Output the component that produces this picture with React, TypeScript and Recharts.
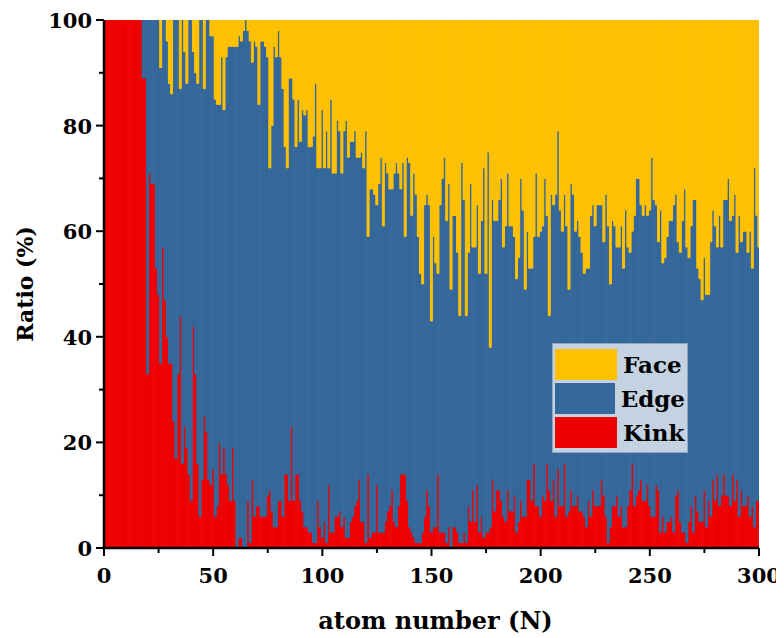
import React from "react";
import { BarChart, Bar, XAxis, YAxis, Legend } from "recharts";

// ratio (%) of surface sites per atom number N = 1..300
const kink = [
  100, 100, 100, 100, 100, 100, 100, 100, 100, 100,
  100, 100, 100, 100, 100, 100, 100, 89, 89, 33,
  71, 69, 69, 53, 48, 35, 57, 47, 40, 35,
  35, 24, 17, 33, 44, 16, 23, 19, 14, 9,
  42, 33, 16, 6, 13, 25, 22, 13, 12, 15,
  6, 8, 20, 14, 19, 14, 12, 9, 19, 9,
  0, 2, 2, 0, 0, 9, 1, 13, 6, 8,
  8, 6, 6, 6, 10, 11, 7, 4, 4, 9,
  9, 6, 14, 14, 9, 23, 9, 14, 14, 9,
  7, 4, 4, 3, 3, 1, 1, 9, 4, 2,
  5, 1, 12, 3, 3, 6, 6, 7, 4, 6,
  2, 2, 5, 6, 8, 9, 13, 5, 5, 1,
  14, 2, 3, 3, 12, 3, 3, 3, 5, 7,
  8, 11, 5, 4, 8, 14, 14, 14, 9, 4,
  3, 2, 1, 1, 1, 3, 6, 11, 8, 3,
  4, 4, 14, 3, 3, 3, 1, 4, 0, 4,
  4, 3, 1, 1, 3, 1, 8, 5, 11, 5,
  12, 3, 6, 2, 3, 3, 4, 13, 7, 11,
  11, 9, 6, 5, 11, 7, 7, 10, 3, 5,
  9, 6, 6, 13, 13, 9, 16, 8, 8, 6,
  10, 9, 16, 11, 9, 13, 6, 15, 8, 8,
  16, 6, 7, 11, 8, 8, 10, 7, 7, 6,
  4, 9, 6, 11, 8, 8, 8, 13, 10, 6,
  1, 4, 8, 8, 10, 6, 8, 4, 4, 8,
  11, 16, 8, 10, 11, 13, 9, 9, 12, 8,
  6, 6, 12, 11, 3, 6, 3, 5, 5, 6,
  3, 10, 11, 5, 3, 3, 1, 5, 8, 3,
  10, 7, 5, 5, 11, 4, 9, 6, 13, 9,
  14, 8, 10, 14, 10, 10, 8, 14, 9, 13,
  6, 11, 8, 8, 10, 6, 8, 4, 9, 9,
];

const edge = [
  0, 0, 0, 0, 0, 0, 0, 0, 0, 0,
  0, 0, 0, 0, 0, 0, 0, 11, 11, 67,
  29, 31, 31, 47, 52, 56, 43, 53, 56, 53,
  51, 76, 83, 67, 43, 84, 71, 69, 86, 91,
  52, 57, 72, 94, 87, 62, 78, 87, 85, 82,
  79, 76, 64, 79, 64, 79, 83, 86, 76, 86,
  95, 95, 94, 98, 100, 89, 95, 79, 90, 87,
  76, 90, 90, 89, 83, 61, 73, 91, 89, 89,
  84, 81, 62, 58, 80, 66, 76, 62, 71, 68,
  76, 78, 79, 73, 73, 77, 87, 63, 68, 81,
  67, 78, 60, 82, 68, 65, 75, 72, 67, 73,
  79, 72, 72, 71, 71, 65, 61, 70, 67, 78,
  45, 66, 65, 64, 53, 66, 71, 58, 68, 64,
  60, 57, 66, 69, 63, 54, 59, 45, 65, 69,
  60, 69, 66, 58, 51, 47, 59, 56, 57, 40,
  55, 50, 38, 62, 67, 71, 61, 65, 49, 59,
  59, 53, 43, 72, 63, 43, 48, 64, 46, 52,
  53, 49, 56, 70, 49, 72, 34, 53, 55, 51,
  55, 61, 51, 56, 60, 54, 54, 49, 48, 50,
  61, 58, 43, 47, 40, 44, 43, 63, 51, 54,
  51, 61, 47, 33, 58, 52, 61, 64, 56, 52,
  51, 55, 42, 58, 59, 52, 52, 52, 49, 46,
  49, 44, 57, 54, 53, 57, 57, 52, 48, 61,
  60, 46, 54, 53, 47, 51, 53, 49, 60, 49,
  45, 44, 55, 60, 59, 52, 54, 56, 51, 56,
  68, 60, 53, 47, 61, 48, 52, 54, 57, 56,
  62, 57, 47, 51, 59, 65, 56, 50, 53, 63,
  56, 46, 46, 42, 44, 44, 39, 52, 51, 52,
  43, 55, 47, 52, 56, 60, 54, 49, 58, 43,
  57, 47, 52, 52, 46, 54, 45, 68, 54, 48,
];

const face = [
  0, 0, 0, 0, 0, 0, 0, 0, 0, 0,
  0, 0, 0, 0, 0, 0, 0, 0, 0, 0,
  0, 0, 0, 0, 0, 9, 0, 0, 4, 12,
  14, 0, 0, 0, 13, 0, 6, 12, 0, 0,
  6, 10, 12, 0, 0, 13, 0, 0, 3, 3,
  15, 16, 16, 7, 17, 7, 5, 5, 5, 5,
  5, 3, 4, 2, 0, 2, 4, 8, 4, 5,
  16, 4, 4, 5, 7, 28, 20, 5, 7, 2,
  7, 13, 24, 28, 11, 11, 15, 24, 15, 23,
  17, 18, 17, 24, 24, 22, 12, 28, 28, 17,
  28, 21, 28, 15, 29, 29, 19, 21, 29, 21,
  19, 26, 23, 23, 21, 26, 26, 25, 28, 21,
  41, 32, 32, 33, 35, 31, 26, 39, 27, 29,
  32, 32, 29, 27, 29, 32, 27, 41, 26, 27,
  37, 29, 33, 41, 48, 50, 35, 33, 35, 57,
  41, 46, 48, 35, 30, 26, 38, 31, 51, 37,
  37, 44, 56, 27, 34, 56, 44, 31, 43, 43,
  35, 48, 38, 28, 48, 25, 62, 34, 38, 38,
  34, 30, 43, 39, 29, 39, 39, 41, 49, 45,
  30, 36, 51, 40, 47, 47, 41, 29, 41, 40,
  39, 30, 37, 56, 33, 35, 33, 21, 36, 40,
  33, 39, 51, 31, 33, 40, 38, 41, 44, 48,
  47, 47, 37, 35, 39, 35, 35, 35, 42, 33,
  39, 50, 38, 39, 43, 43, 39, 47, 36, 43,
  44, 40, 37, 30, 30, 35, 37, 35, 37, 36,
  26, 34, 35, 42, 36, 46, 45, 41, 38, 38,
  35, 33, 42, 44, 38, 32, 43, 45, 39, 34,
  34, 47, 49, 53, 45, 52, 52, 42, 36, 39,
  43, 37, 43, 34, 34, 30, 38, 37, 33, 44,
  37, 42, 40, 40, 44, 40, 47, 28, 37, 43,
];

const xTicks = [0, 25, 50, 75, 100, 125, 150, 175, 200, 225, 250, 275, 300];
const yTicks = [0, 10, 20, 30, 40, 50, 60, 70, 80, 90, 100];

const COLORS = { face: "#FFC000", edge: "#34679A", kink: "#EE0000" };
const FONT = "'DejaVu Serif', 'Liberation Serif', serif";

const legendItems = [
  { name: "Face", color: COLORS.face },
  { name: "Edge", color: COLORS.edge },
  { name: "Kink", color: COLORS.kink },
];

const data = kink.map((k, i) => ({ n: i + 1, kink: k, edge: edge[i], face: face[i] }));

const XTick = (props: any) => {
  const { x, y, payload } = props;
  const major = payload.value % 50 === 0;
  return (
    <g>
      <line x1={x} x2={x} y1={y} y2={y + (major ? 8 : 5)} stroke="#000" strokeWidth={2} />
      {major && (
        <text x={x} y={y + 35} textAnchor="middle" fontSize={21} fontWeight="bold" fontFamily={FONT} fill="#000">
          {payload.value}
        </text>
      )}
    </g>
  );
};

const YTick = (props: any) => {
  const { x, y, payload } = props;
  const major = payload.value % 20 === 0;
  return (
    <g>
      <line x1={x - (major ? 8 : 5)} x2={x} y1={y} y2={y} stroke="#000" strokeWidth={2} />
      {major && (
        <text x={x - 12} y={y + 8} textAnchor="end" fontSize={21} fontWeight="bold" fontFamily={FONT} fill="#000">
          {payload.value}
        </text>
      )}
    </g>
  );
};

const XTitle = (props: any) => {
  const { viewBox } = props;
  return (
    <text x={viewBox.x + viewBox.width / 2 + 4} y={viewBox.y + 81} textAnchor="middle" fontSize={24} fontWeight="bold" fontFamily={FONT} fill="#000">
      atom number (N)
    </text>
  );
};

const YTitle = (props: any) => {
  const { viewBox } = props;
  const cx = viewBox.x - 19;
  const cy = viewBox.y + viewBox.height / 2;
  return (
    <text x={cx} y={cy} transform={`rotate(-90, ${cx}, ${cy})`} textAnchor="middle" dominantBaseline="central" fontSize={22} fontWeight="bold" fontFamily={FONT} fill="#000">
      Ratio (%)
    </text>
  );
};

const LegendBox = () => (
  <div style={{ background: "#C4D2E2", border: "1px solid #8FA7C1", padding: "3px 2px", fontFamily: FONT }}>
    {legendItems.map((it) => (
      <div key={it.name} style={{ display: "flex", alignItems: "center", height: 34 }}>
        <div style={{ width: 62, height: 31, background: it.color }} />
        <span style={{ marginLeft: 6, fontSize: 23, fontWeight: "bold", color: "#000", lineHeight: "31px" }}>{it.name}</span>
      </div>
    ))}
  </div>
);

export default function App() {
  return (
    <BarChart
      width={776}
      height={630}
      data={data}
      barCategoryGap={0}
      barGap={0}
      margin={{ top: 12, right: 25, bottom: 40, left: 36 }}
      style={{ overflow: "visible" }}
    >
      <XAxis
        type="number"
        dataKey="n"
        domain={[0, 300]}
        ticks={xTicks}
        interval={0}
        height={50}
        tickSize={0}
        tickMargin={0}
        tickLine={false}
        tick={<XTick />}
        axisLine={{ stroke: "#000", strokeWidth: 2.5 }}
        allowDataOverflow
        label={<XTitle />}
      />
      <XAxis
        xAxisId="top"
        orientation="top"
        type="number"
        dataKey="n"
        domain={[0, 300]}
        height={0}
        tick={false}
        tickLine={false}
        axisLine={{ stroke: "#000", strokeWidth: 2.5 }}
      />
      <YAxis
        type="number"
        domain={[0, 100]}
        ticks={yTicks}
        interval={0}
        width={60}
        tickSize={0}
        tickMargin={0}
        tickLine={false}
        tick={<YTick />}
        axisLine={{ stroke: "#000", strokeWidth: 2.5 }}
        allowDataOverflow
        label={<YTitle />}
      />
      <YAxis
        yAxisId="right"
        orientation="right"
        type="number"
        domain={[0, 100]}
        width={0}
        tick={false}
        tickLine={false}
        axisLine={{ stroke: "#000", strokeWidth: 2.5 }}
      />
      <Legend
        layout="vertical"
        align="center"
        verticalAlign="middle"
        content={<LegendBox />}
        wrapperStyle={{ left: 544, top: 335, width: 136 }}
      />
      <Bar dataKey="kink" name="Kink" stackId="s" barSize={2.4} fill={COLORS.kink} stroke={COLORS.kink} strokeWidth={1} isAnimationActive={false} />
      <Bar dataKey="edge" name="Edge" stackId="s" barSize={2.4} fill={COLORS.edge} stroke={COLORS.edge} strokeWidth={1} isAnimationActive={false} />
      <Bar dataKey="face" name="Face" stackId="s" barSize={2.4} fill={COLORS.face} stroke={COLORS.face} strokeWidth={1} isAnimationActive={false} />
    </BarChart>
  );
}
